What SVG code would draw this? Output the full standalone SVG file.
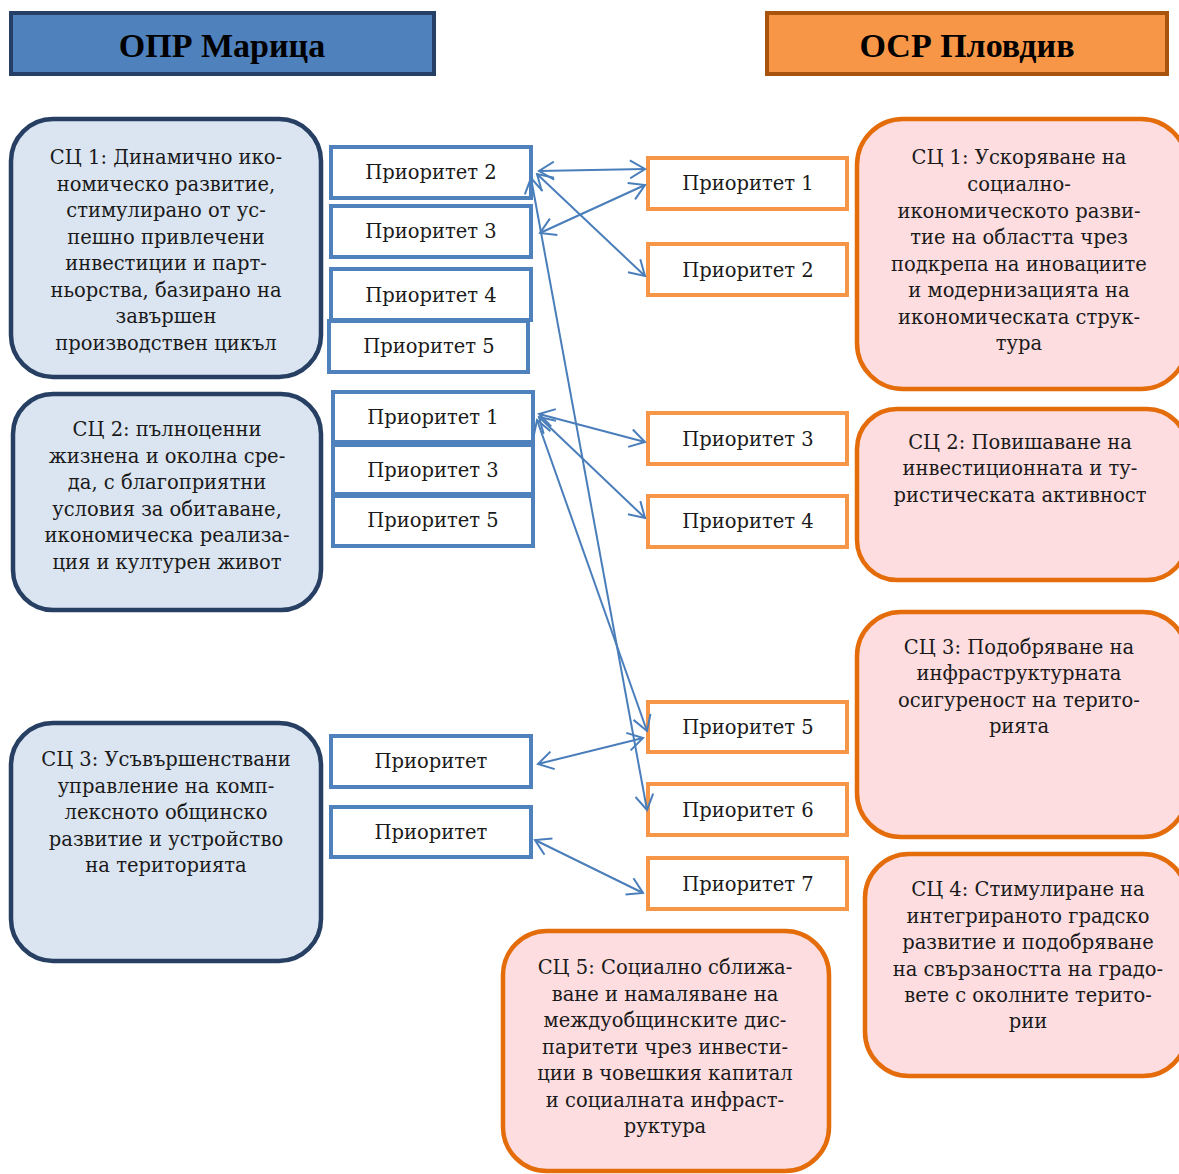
<svg xmlns="http://www.w3.org/2000/svg" width="1179" height="1174" viewBox="0 0 1179 1174">
<defs>
<style>
text{font-family:"DejaVu Serif","Liberation Serif",serif;font-size:19.5px;fill:#1a1a1a;text-anchor:middle}
.hd{font-family:"Liberation Serif","DejaVu Serif",serif;font-size:34px;font-weight:bold;fill:#000}
.hl{fill:#4f81bd;stroke:#253f66;stroke-width:4}
.hr{fill:#f79646;stroke:#a8540f;stroke-width:4}
.sl{fill:#dbe5f1;stroke:#263f63;stroke-width:4.5}
.sr{fill:#fddde0;stroke:#e46c0a;stroke-width:4.5}
.pl{fill:#fff;stroke:#4f81bd;stroke-width:4}
.pr{fill:#fff;stroke:#f79646;stroke-width:4}
.c{stroke:#4a7ebb;stroke-width:2;fill:none;marker-start:url(#ah);marker-end:url(#ah)}
</style>
<marker id="ah" viewBox="0 0 18 20" refX="16" refY="10" markerWidth="18" markerHeight="20" markerUnits="userSpaceOnUse" orient="auto-start-reverse">
<path d="M1,1 L16,10 L1,19" fill="none" stroke="#4a7ebb" stroke-width="2"/>
</marker>
</defs>

<g id="header-left"><rect class="hl" x="11" y="13" width="423" height="61"/><text class="hd" x="222" y="57">ОПР Марица</text></g>
<g id="header-right"><rect class="hr" x="767" y="13" width="400" height="61"/><text class="hd" x="967" y="57">ОСР Пловдив</text></g>

<g id="l-sc1"><rect class="sl" x="11" y="119" width="310" height="258" rx="42"/>
<text x="166" y="164">СЦ 1: Динамично ико-</text>
<text x="166" y="191">номическо развитие,</text>
<text x="166" y="217">стимулирано от ус-</text>
<text x="166" y="244">пешно привлечени</text>
<text x="166" y="270">инвестиции и парт-</text>
<text x="166" y="297">ньорства, базирано на</text>
<text x="166" y="323">завършен</text>
<text x="166" y="350">производствен цикъл</text></g>

<g id="l-sc2"><rect class="sl" x="13" y="394" width="308" height="216" rx="40"/>
<text x="167" y="436">СЦ 2: пълноценни</text>
<text x="167" y="463">жизнена и околна сре-</text>
<text x="167" y="489">да, с благоприятни</text>
<text x="167" y="516">условия за обитаване,</text>
<text x="167" y="542">икономическа реализа-</text>
<text x="167" y="569">ция и културен живот</text></g>

<g id="l-sc3"><rect class="sl" x="11" y="723" width="310" height="238" rx="42"/>
<text x="166" y="766">СЦ 3: Усъвършенствани</text>
<text x="166" y="793">управление на комп-</text>
<text x="166" y="819">лексното общинско</text>
<text x="166" y="846">развитие и устройство</text>
<text x="166" y="872">на територията</text></g>

<g id="lp2"><rect class="pl" x="331" y="147" width="200" height="51"/><text x="431" y="179">Приоритет 2</text></g>
<g id="lp3"><rect class="pl" x="331" y="206" width="200" height="51"/><text x="431" y="238">Приоритет 3</text></g>
<g id="lp4"><rect class="pl" x="331" y="269" width="200" height="51"/><text x="431" y="302">Приоритет 4</text></g>
<g id="lp5"><rect class="pl" x="329" y="321" width="199" height="51"/><text x="429" y="353">Приоритет 5</text></g>
<g id="lp1b"><rect class="pl" x="333" y="392" width="200" height="50"/><text x="433" y="424">Приоритет 1</text></g>
<g id="lp3b"><rect class="pl" x="333" y="445" width="200" height="49"/><text x="433" y="477">Приоритет 3</text></g>
<g id="lp5b"><rect class="pl" x="333" y="496" width="200" height="50"/><text x="433" y="527">Приоритет 5</text></g>
<g id="lpa"><rect class="pl" x="331" y="736" width="200" height="51"/><text x="431" y="768">Приоритет</text></g>
<g id="lpb"><rect class="pl" x="331" y="807" width="200" height="50"/><text x="431" y="839">Приоритет</text></g>

<g id="rp1"><rect class="pr" x="648" y="158" width="199" height="51"/><text x="748" y="190">Приоритет 1</text></g>
<g id="rp2"><rect class="pr" x="648" y="244" width="199" height="51"/><text x="748" y="277">Приоритет 2</text></g>
<g id="rp3"><rect class="pr" x="648" y="413" width="199" height="51"/><text x="748" y="446">Приоритет 3</text></g>
<g id="rp4"><rect class="pr" x="648" y="496" width="199" height="51"/><text x="748" y="528">Приоритет 4</text></g>
<g id="rp5"><rect class="pr" x="648" y="702" width="199" height="50"/><text x="748" y="734">Приоритет 5</text></g>
<g id="rp6"><rect class="pr" x="648" y="784" width="199" height="51"/><text x="748" y="817">Приоритет 6</text></g>
<g id="rp7"><rect class="pr" x="648" y="858" width="199" height="51"/><text x="748" y="891">Приоритет 7</text></g>

<g id="r-sc1"><rect class="sr" x="857" y="119" width="330" height="270" rx="46"/>
<text x="1019" y="164">СЦ 1: Ускоряване на</text>
<text x="1019" y="191">социално-</text>
<text x="1019" y="218">икономическото разви-</text>
<text x="1019" y="244">тие на областта чрез</text>
<text x="1019" y="271">подкрепа на иновациите</text>
<text x="1019" y="297">и модернизацията на</text>
<text x="1019" y="324">икономическата струк-</text>
<text x="1019" y="350">тура</text></g>

<g id="r-sc2"><rect class="sr" x="857" y="409" width="330" height="171" rx="40"/>
<text x="1020" y="449">СЦ 2: Повишаване на</text>
<text x="1020" y="475">инвестиционната и ту-</text>
<text x="1020" y="502">ристическата активност</text></g>

<g id="r-sc3"><rect class="sr" x="857" y="612" width="330" height="225" rx="44"/>
<text x="1019" y="654">СЦ 3: Подобряване на</text>
<text x="1019" y="680">инфраструктурната</text>
<text x="1019" y="707">осигуреност на терито-</text>
<text x="1019" y="733">рията</text></g>

<g id="r-sc4"><rect class="sr" x="865" y="854" width="322" height="222" rx="44"/>
<text x="1028" y="896">СЦ 4: Стимулиране на</text>
<text x="1028" y="923">интегрираното градско</text>
<text x="1028" y="949">развитие и подобряване</text>
<text x="1028" y="976">на свързаността на градо-</text>
<text x="1028" y="1002">вете с околните терито-</text>
<text x="1028" y="1028">рии</text></g>

<g id="r-sc5"><rect class="sr" x="503" y="931" width="326" height="240" rx="44"/>
<text x="665" y="974">СЦ 5: Социално сближа-</text>
<text x="665" y="1001">ване и намаляване на</text>
<text x="665" y="1027">междуобщинските дис-</text>
<text x="665" y="1054">паритети чрез инвести-</text>
<text x="665" y="1080">ции в човешкия капитал</text>
<text x="665" y="1107">и социалната инфраст-</text>
<text x="665" y="1133">руктура</text></g>

<g id="connectors">
<line class="c" x1="539" y1="171" x2="645" y2="169"/>
<line class="c" x1="540" y1="233" x2="645" y2="185"/>
<line class="c" x1="537" y1="174" x2="645" y2="276"/>
<line class="c" x1="531" y1="178" x2="647" y2="810"/>
<line class="c" x1="539" y1="414" x2="645" y2="442"/>
<line class="c" x1="539" y1="417" x2="645" y2="518"/>
<line class="c" x1="537" y1="420" x2="647" y2="731"/>
<line class="c" x1="538" y1="764" x2="643" y2="738"/>
<line class="c" x1="535" y1="840" x2="643" y2="893"/>
</g>
</svg>
